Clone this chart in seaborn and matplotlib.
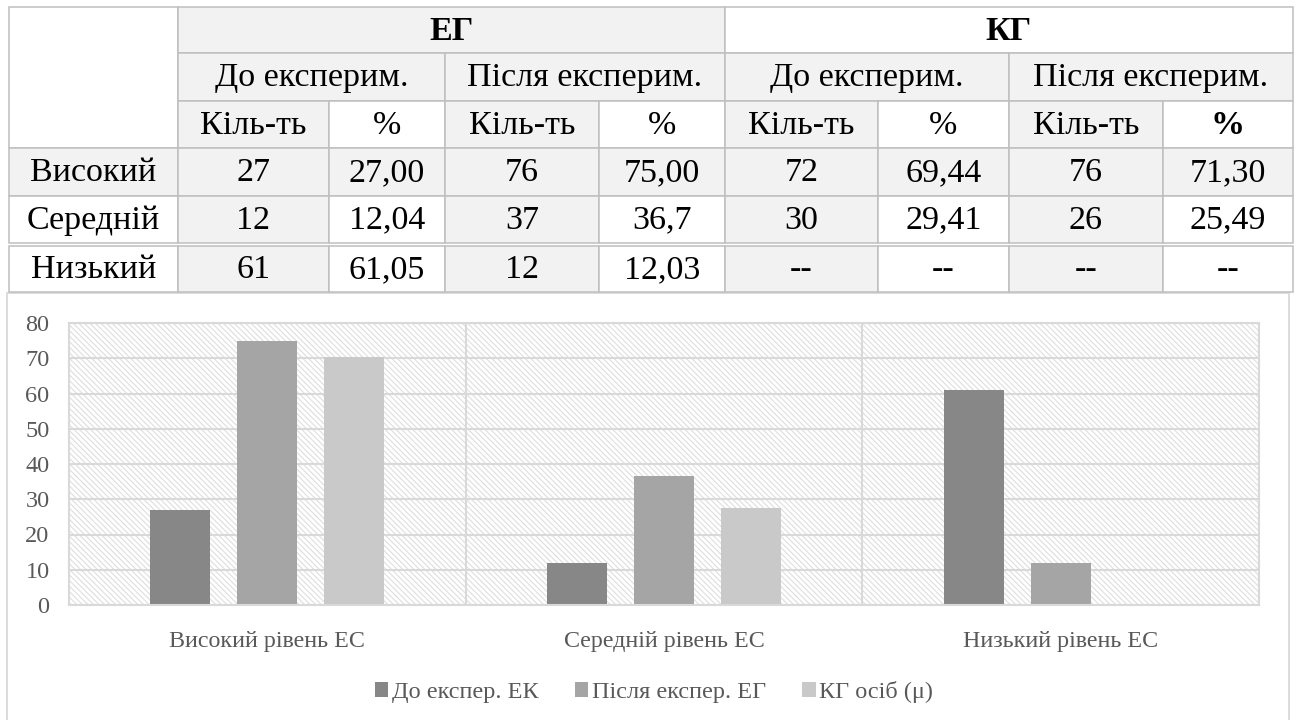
import matplotlib
matplotlib.use("Agg")
import matplotlib.pyplot as plt
from matplotlib.patches import Rectangle, Patch
import seaborn as sns
import pandas as pd

# ---- table contents ----
level_names = ["Високий", "Середній", "Низький"]
group_names = ["ЕГ", "КГ"]
stage_names = ["До експерим.", "Після експерим."]
measure_names = ["Кіль-ть", "%"]
eg_before_count = ["27", "12", "61"]
eg_before_pct = ["27,00", "12,04", "61,05"]
eg_after_count = ["76", "37", "12"]
eg_after_pct = ["75,00", "36,7", "12,03"]
kg_before_count = ["72", "30", "--"]
kg_before_pct = ["69,44", "29,41", "--"]
kg_after_count = ["76", "26", "--"]
kg_after_pct = ["71,30", "25,49", "--"]

# ---- chart series ----
categories = ["Високий рівень ЕС", "Середній рівень ЕС", "Низький рівень ЕС"]
series_names = ["До експер. ЕК", "Після експер. ЕГ", "КГ осіб (μ)"]
before_eg = [27.00, 12.04, 61.05]
after_eg = [75.00, 36.7, 12.03]
kg_mean = [70.37, 27.45, None]
y_ticks = [0, 10, 20, 30, 40, 50, 60, 70, 80]

bar_colors = ["#878787", "#a5a5a5", "#c9c9c9"]
text_gray = "#595959"
line_gray = "#d9d9d9"
cell_gray = "#f2f2f2"
border_gray = "#bfbfbf"

sns.set_theme(style="white")
plt.rcParams["font.family"] = ["Liberation Serif", "DejaVu Serif"]
plt.rcParams["hatch.linewidth"] = 0.8

fig = plt.figure(figsize=(12.99, 7.2), dpi=100)
fig.patch.set_facecolor("white")

# pixel-space layer for the table and the chart frame
layer = fig.add_axes([0, 0, 1, 1], zorder=0)
layer.set_xlim(0, 1299)
layer.set_ylim(720, 0)
layer.axis("off")

col_x = [9, 178, 329, 445, 599, 725, 878, 1009, 1163, 1293]
row_y = [7, 53, 101, 148, 196, 243, 246, 292]
table_fs = 24.5


def cell(x0, x1, y0, y1, text="", fill="white", bold=False):
    layer.add_patch(Rectangle((x0, y0), x1 - x0, y1 - y0, facecolor=fill,
                              edgecolor=border_gray, linewidth=1.1, zorder=1))
    if text:
        layer.text((x0 + x1) / 2, (y0 + y1) / 2 + 1, text, ha="center",
                   va="center", fontsize=table_fs, color="black",
                   fontweight="bold" if bold else "normal", zorder=2)


# chart frame
layer.add_patch(Rectangle((7, 293), 1282, 440, facecolor="white",
                          edgecolor=line_gray, linewidth=1.3, zorder=0))

# header block
cell(col_x[0], col_x[1], row_y[0], row_y[3])
cell(col_x[1], col_x[5], row_y[0], row_y[1], group_names[0], cell_gray, bold=True)
cell(col_x[5], col_x[9], row_y[0], row_y[1], group_names[1], "white", bold=True)
for k in range(4):
    cell(col_x[1 + 2 * k], col_x[3 + 2 * k], row_y[1], row_y[2],
         stage_names[k % 2], cell_gray)
for k in range(8):
    is_count = k % 2 == 0
    cell(col_x[1 + k], col_x[2 + k], row_y[2], row_y[3], measure_names[k % 2],
         cell_gray if is_count else "white", bold=(k == 7))

# body
columns = [eg_before_count, eg_before_pct, eg_after_count, eg_after_pct,
           kg_before_count, kg_before_pct, kg_after_count, kg_after_pct]
body_rows = [(row_y[3], row_y[4]), (row_y[4], row_y[5]), (row_y[6], row_y[7])]
for r, (y0, y1) in enumerate(body_rows):
    shaded_row = r == 0
    cell(col_x[0], col_x[1], y0, y1, level_names[r],
         cell_gray if shaded_row else "white")
    for k, col in enumerate(columns):
        fill = cell_gray if (shaded_row or k % 2 == 0) else "white"
        cell(col_x[1 + k], col_x[2 + k], y0, y1, col[r], fill)

# ---- bar chart ----
records = []
for name, vals in zip(series_names, [before_eg, after_eg, kg_mean]):
    for cat, v in zip(categories, vals):
        if v is not None:
            records.append({"category": cat, "series": name, "value": v})
df = pd.DataFrame(records)

ax = fig.add_axes([69 / 1299, 115 / 720, 1190 / 1299, 282 / 720], zorder=1)
ax.set_facecolor("white")
ax.add_patch(Rectangle((0, 0), 1, 1, transform=ax.transAxes, facecolor="white",
                       edgecolor="#dedede", linewidth=0, hatch="\\\\\\\\\\\\",
                       zorder=0.1))
sns.barplot(data=df, x="category", y="value", hue="series", order=categories,
            hue_order=series_names, palette=bar_colors, saturation=1,
            width=0.657, gap=0.31, linewidth=0, legend=False, ax=ax, zorder=2)

ax.set_axisbelow(True)
ax.set_ylim(0, 80)
ax.set_xlim(-0.5, 2.5)
ax.set_yticks(y_ticks)
ax.yaxis.grid(True, color=line_gray, linewidth=1.5)
for xb in (0.5, 1.5):
    ax.axvline(xb, color=line_gray, linewidth=1.5, zorder=0.5)
for s in ax.spines.values():
    s.set_visible(True)
    s.set_color(line_gray)
    s.set_linewidth(1.5)
ax.set_xlabel("")
ax.set_ylabel("")
ax.tick_params(axis="y", length=0, labelsize=17.5, colors=text_gray, pad=14)
ax.tick_params(axis="x", length=0, labelsize=17.3, colors=text_gray, pad=19)

handles = [Patch(facecolor=c, edgecolor="none") for c in bar_colors]
fig.legend(handles, series_names, loc="center",
           bbox_to_anchor=(654 / 1299, 1 - 692 / 720), ncol=3, frameon=False,
           handlelength=0.55, handleheight=0.55, handletextpad=0.15,
           columnspacing=1.5, fontsize=17.5, labelcolor=text_gray)

fig.savefig("out.png", dpi=100, facecolor="white")
